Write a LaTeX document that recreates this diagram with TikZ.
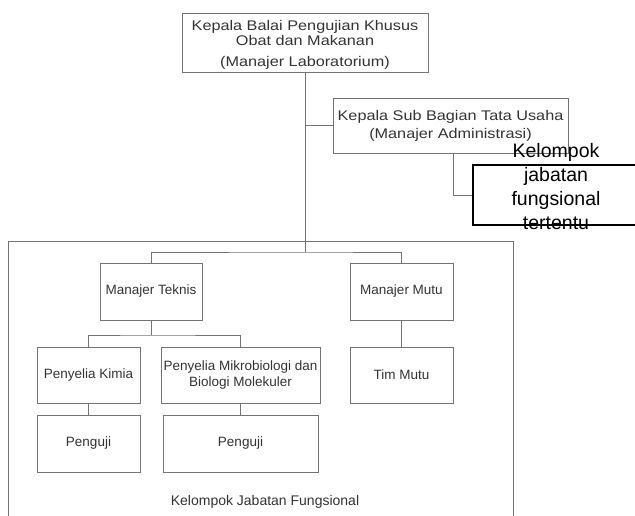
\documentclass[tikz,border=0pt]{standalone}
\usepackage{fontspec}
\setmainfont{Liberation Sans}
\newfontfamily\lebar[FakeStretch=1.16]{Liberation Sans}

\begin{document}
\begin{tikzpicture}[x=1pt, y=-1pt, line width=0.9pt,
    kotak/.style={draw=black!55, text=black!80, align=center, inner sep=0pt, font=\fontsize{13.5}{16}\selectfont},
    kotakatas/.style={kotak, font=\lebar\fontsize{14}{15}\selectfont},
    garis/.style={draw=black!55}]
\useasboundingbox (0,0) rectangle (635,515);
\clip (0,0) rectangle (635,515);
\node[draw=black!55, minimum width=505, minimum height=290] (jf) at (260.5,386) {};
\node[text=black!80, font=\fontsize{14}{16}\selectfont] (jflabel) at (265,502) {Kelompok Jabatan Fungsional};
\node[kotakatas, minimum width=246, minimum height=59] (kepala) at (305,42.5) {\rule{0pt}{14pt}Kepala Balai Pengujian Khusus\\Obat dan Makanan\\[6pt](Manajer Laboratorium)};
\node[kotakatas, minimum width=235, minimum height=55, font=\lebar\fontsize{14}{18}\selectfont] (adm) at (450.5,125.5) {Kepala Sub Bagian Tata Usaha\\(Manajer Administrasi)};
\node[draw=black, line width=1.2pt, minimum width=163, minimum height=60] (kjft) at (554.5,195) {};
\node[align=center, font=\fontsize{19.5}{24}\selectfont] (kjfttext) at (556,187) {Kelompok\\jabatan\\fungsional\\tertentu};
\node[kotak, minimum width=102, minimum height=57] (mt) at (151,291.5) {Manajer Teknis};
\node[kotak, minimum width=103, minimum height=57] (mm) at (401.5,291.5) {Manajer Mutu};
\node[kotak, minimum width=103, minimum height=56] (pk) at (88.5,375) {Penyelia Kimia};
\node[kotak, minimum width=159, minimum height=56] (pm) at (240.5,375) {Penyelia Mikrobiologi dan\\Biologi Molekuler};
\node[kotak, minimum width=103, minimum height=56] (tm) at (401.5,375) {Tim Mutu};
\node[kotak, minimum width=103, minimum height=57] (pg1) at (88.5,443.5) {Penguji};
\node[kotak, minimum width=155, minimum height=57] (pg2) at (240.5,443.5) {Penguji};
\coordinate (cabang) at (305,252);
\coordinate (cabang2) at (151,335);
\draw[garis] (kepala) -- (cabang);
\draw[garis] (mt.north) |- (cabang) -| (mm.north);
\draw[garis] (kepala.south |- adm.west) -- (adm.west);
\draw[garis] (adm.south -| 453,0) |- (kjft.west);
\draw[garis] (mt) -- (cabang2);
\draw[garis] (pk.north) |- (cabang2) -| (pm.north);
\draw[garis] (mm) -- (tm);
\draw[garis] (pk) -- (pg1);
\draw[garis] (pm) -- (pg2);
\end{tikzpicture}
\end{document}
